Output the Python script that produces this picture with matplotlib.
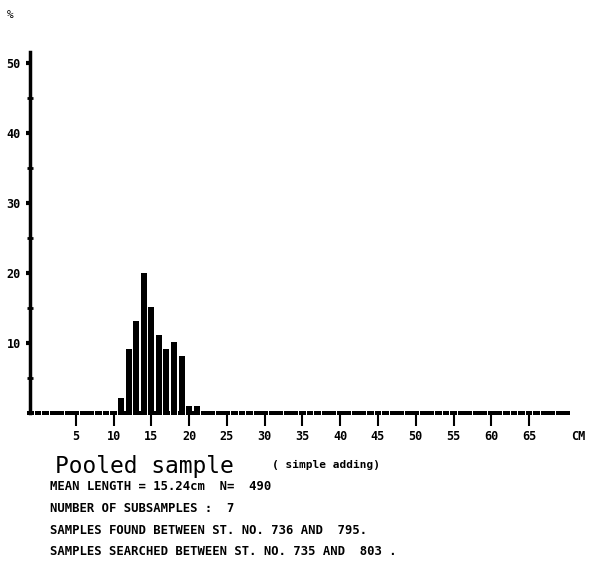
import numpy as np
import matplotlib
matplotlib.use('Agg')
import matplotlib.pyplot as plt

# length classes (cm) and percentage frequency
length_cm = [11, 12, 13, 14, 15, 16, 17, 18, 19, 20, 21]
percent = [2.2, 9.2, 13.1, 20.0, 15.1, 11.2, 9.2, 10.2, 8.2, 1.0, 1.0]

# every class that was plotted (empty ones only show as the dashed floor)
all_classes = np.arange(-1, 71)

x_ticks = [5, 10, 15, 20, 25, 30, 35, 40, 45, 50, 55, 60, 65]
y_ticks = [10, 20, 30, 40, 50]
y_minor = [5, 15, 25, 35, 45]

info_lines = [
    'MEAN LENGTH = 15.24cm  N=  490',
    'NUMBER OF SUBSAMPLES :  7',
    'SAMPLES FOUND BETWEEN ST. NO. 736 AND  795.',
    'SAMPLES SEARCHED BETWEEN ST. NO. 735 AND  803 .',
]

mono = 'DejaVu Sans Mono'

fig = plt.figure(figsize=(5.99, 5.68), dpi=100)
ax = fig.add_axes([0.0382, 0.2606, 0.9334, 0.6532])

# floor marks for all classes, then the real bars
ax.bar(all_classes, 0.7, bottom=-0.35, width=0.9, color='black')
ax.bar(length_cm, percent, width=0.8, color='black')

ax.set_xlim(-2, 72)
ax.set_ylim(-1, 52)

for s in ['top', 'right']:
    ax.spines[s].set_visible(False)
ax.spines['bottom'].set_position(('data', 0))
ax.spines['bottom'].set_visible(False)
ax.spines['left'].set_position(('data', -1))
ax.spines['left'].set_bounds(0, 51.5)
ax.spines['left'].set_linewidth(2.5)

ax.set_xticks(x_ticks)
ax.set_xticklabels([str(t) for t in x_ticks], fontfamily=mono, fontsize=8.5, fontweight='bold')
ax.tick_params(axis='x', direction='out', length=9, width=1.5, pad=3)

ax.set_yticks(y_ticks)
ax.set_yticklabels([str(t) for t in y_ticks], fontfamily=mono, fontsize=8.5, fontweight='bold')
ax.set_yticks(y_minor, minor=True)
ax.tick_params(axis='y', which='major', direction='out', length=3, width=3, pad=4)
ax.tick_params(axis='y', which='minor', direction='inout', length=4, width=2)

ax.text(71.5, -3.4, 'CM', fontfamily=mono, fontsize=8.5, fontweight='bold',
        ha='center', va='center', clip_on=False)

fig.text(10 / 599, 1 - 15 / 568, '%', fontfamily=mono, fontsize=8, ha='center', va='center')

fig.text(55 / 599, 1 - 466 / 568, 'Pooled sample', fontfamily=mono, fontsize=16.5, va='center')
fig.text(272 / 599, 1 - 465 / 568, '( simple adding)', fontfamily=mono, fontsize=8,
         fontweight='bold', va='center')

for i, line in enumerate(info_lines):
    fig.text(50 / 599, 1 - (487 + 21.5 * i) / 568, line, fontfamily=mono, fontsize=8.8,
             fontweight='bold', va='center')

fig.savefig('out.png', dpi=100)
